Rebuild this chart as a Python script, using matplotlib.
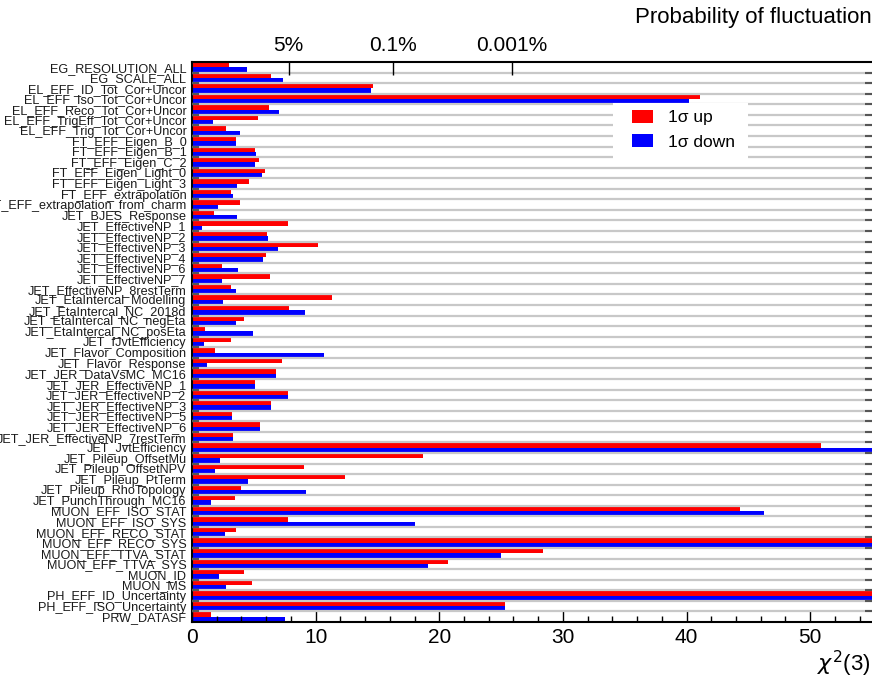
import math
import matplotlib
matplotlib.use("Agg")
import matplotlib.pyplot as plt
from matplotlib import font_manager
from matplotlib.patches import Patch, Rectangle
from matplotlib.ticker import FixedLocator, MultipleLocator, NullFormatter

# ---- data -------------------------------------------------------------
categories = [
    "EG_RESOLUTION_ALL", "EG_SCALE_ALL", "EL_EFF_ID_Tot_Cor+Uncor",
    "EL_EFF_Iso_Tot_Cor+Uncor", "EL_EFF_Reco_Tot_Cor+Uncor",
    "EL_EFF_TrigEff_Tot_Cor+Uncor", "EL_EFF_Trig_Tot_Cor+Uncor",
    "FT_EFF_Eigen_B_0", "FT_EFF_Eigen_B_1", "FT_EFF_Eigen_C_2",
    "FT_EFF_Eigen_Light_0", "FT_EFF_Eigen_Light_3", "FT_EFF_extrapolation",
    "FT_EFF_extrapolation_from_charm", "JET_BJES_Response",
    "JET_EffectiveNP_1", "JET_EffectiveNP_2", "JET_EffectiveNP_3",
    "JET_EffectiveNP_4", "JET_EffectiveNP_6", "JET_EffectiveNP_7",
    "JET_EffectiveNP_8restTerm", "JET_EtaIntercal_Modelling",
    "JET_EtaIntercal_NC_2018d", "JET_EtaIntercal_NC_negEta",
    "JET_EtaIntercal_NC_posEta", "JET_fJvtEfficiency",
    "JET_Flavor_Composition", "JET_Flavor_Response", "JET_JER_DataVsMC_MC16",
    "JET_JER_EffectiveNP_1", "JET_JER_EffectiveNP_2", "JET_JER_EffectiveNP_3",
    "JET_JER_EffectiveNP_5", "JET_JER_EffectiveNP_6",
    "JET_JER_EffectiveNP_7restTerm", "JET_JvtEfficiency",
    "JET_Pileup_OffsetMu", "JET_Pileup_OffsetNPV", "JET_Pileup_PtTerm",
    "JET_Pileup_RhoTopology", "JET_PunchThrough_MC16", "MUON_EFF_ISO_STAT",
    "MUON_EFF_ISO_SYS", "MUON_EFF_RECO_STAT", "MUON_EFF_RECO_SYS",
    "MUON_EFF_TTVA_STAT", "MUON_EFF_TTVA_SYS", "MUON_ID", "MUON_MS",
    "PH_EFF_ID_Uncertainty", "PH_EFF_ISO_Uncertainty", "PRW_DATASF",
]

chi2_up = [
    2.99, 6.35, 14.67, 41.1, 6.19, 5.30, 2.72, 3.53, 5.06, 5.38,
    5.87, 4.58, 3.12, 3.85, 1.75, 7.73, 6.03, 10.23, 5.95, 2.40,
    6.27, 3.12, 11.36, 7.81, 4.17, 1.02, 3.12, 1.83, 7.24, 6.76,
    5.06, 7.73, 6.43, 3.20, 5.47, 3.28, 50.9, 18.71, 9.02, 12.41,
    3.93, 3.45, 44.3, 7.73, 3.53, 60.3, 28.4, 20.7, 4.17, 4.82,
    64.0, 25.3, 1.51,
]

chi2_down = [
    4.42, 7.32, 14.51, 40.2, 7.00, 1.67, 3.85, 3.53, 5.14, 5.06,
    5.63, 3.61, 3.28, 2.07, 3.61, 0.78, 6.11, 6.92, 5.71, 3.69,
    2.40, 3.53, 2.48, 9.18, 3.53, 4.90, 0.94, 10.64, 1.18, 6.76,
    5.06, 7.73, 6.43, 3.20, 5.47, 3.28, 57.5, 2.24, 1.83, 4.50,
    9.26, 1.51, 46.3, 18.07, 2.64, 59.1, 25.0, 19.1, 2.15, 2.72,
    63.0, 25.3, 7.49,
]

prob_levels = [0.05, 0.001, 0.00001]
prob_labels = ["5%", "0.1%", "0.001%"]
x_max = 55


# ---- chi2 with 3 degrees of freedom -----------------------------------
def chi2_3dof_sf(x):
    return math.erfc(math.sqrt(x / 2.0)) + math.sqrt(2.0 * x / math.pi) * math.exp(-x / 2.0)


def chi2_3dof_isf(p):
    lo, hi = 0.0, 200.0
    for _ in range(200):
        mid = 0.5 * (lo + hi)
        if chi2_3dof_sf(mid) > p:
            lo = mid
        else:
            hi = mid
    return 0.5 * (lo + hi)


prob_positions = [chi2_3dof_isf(p) for p in prob_levels]

# ---- fonts ------------------------------------------------------------
installed = {f.name for f in font_manager.fontManager.ttflist}
regular = "Liberation Sans" if "Liberation Sans" in installed else "DejaVu Sans"
plt.rcParams["font.family"] = [regular, "DejaVu Sans"]

# ---- figure -----------------------------------------------------------
W, H = 872, 681
fig = plt.figure(figsize=(W / 100, H / 100), dpi=100)
ax_l, ax_b, ax_w, ax_h = 192, 622, 680, 560          # pixel box of the plot area
ax = fig.add_axes([ax_l / W, (H - ax_b) / H, ax_w / W, ax_h / H])


def px_to_axes(x, y):
    return (x - ax_l) / ax_w, (ax_b - y) / ax_h


n = len(categories)
ypos = list(range(n))
bar_h = 0.5
ax.barh([y - bar_h / 2 for y in ypos], chi2_up, height=bar_h,
        color="#ff0000", linewidth=0, zorder=2)
ax.barh([y + bar_h / 2 for y in ypos], chi2_down, height=bar_h,
        color="#0000ff", linewidth=0, zorder=2)

ax.set_xlim(0, x_max)
ax.set_ylim(n - 0.5, -0.5)

# category labels centred in each row, separators on the row boundaries
ax.set_yticks(ypos)
ax.set_yticklabels(categories, fontsize=9.1, color="#1a1a1a")
ax.yaxis.set_minor_locator(FixedLocator([y + 0.5 for y in ypos[:-1]]))
ax.tick_params(axis="y", which="major", length=0, pad=4)
ax.tick_params(axis="y", which="minor", direction="in", length=5, width=1.5,
               color="#555555", left=True, right=True)
ax.grid(axis="y", which="minor", color="#c8c8c8", linewidth=1.6, zorder=3)
ax.set_axisbelow(False)

# chi2 axis at the bottom
ax.xaxis.set_major_locator(MultipleLocator(10))
ax.xaxis.set_minor_locator(MultipleLocator(2))
ax.tick_params(axis="x", which="major", direction="in", length=8, width=1,
               labelsize=15, pad=4, top=False)
ax.tick_params(axis="x", which="minor", direction="in", length=4, width=1, top=False)

for side in ("left", "bottom", "top"):
    ax.spines[side].set_linewidth(1.5)
ax.spines["right"].set_visible(False)

# probability scale along the top
top = ax.twiny()
top.set_xlim(ax.get_xlim())
top.set_xticks(prob_positions)
top.set_xticklabels(prob_labels, fontsize=15)
top.xaxis.set_minor_formatter(NullFormatter())
top.tick_params(axis="x", which="major", direction="in", length=9, width=1, pad=5)
for side in ("left", "right", "bottom", "top"):
    top.spines[side].set_visible(False)

fig.text(1.0, 1 - 17 / H, "Probability of fluctuation", ha="right", va="center",
         fontsize=16)
fig.text(0.998, 1 - 664 / H, r"$\chi^2$(3)", ha="right", va="center", fontsize=16)

# legend on a plain white panel
x0, y0 = px_to_axes(613, 160)
x1, y1 = px_to_axes(748, 103)
ax.add_patch(Rectangle((x0, y0), x1 - x0, y1 - y0, transform=ax.transAxes,
                       facecolor="white", edgecolor="none", zorder=4))
handles = [Patch(facecolor="#ff0000", edgecolor="none", label="1σ up"),
           Patch(facecolor="#0000ff", edgecolor="none", label="1σ down")]
leg = ax.legend(handles=handles, loc="upper left",
                bbox_to_anchor=px_to_axes(632, 110),
                fontsize=12.5, frameon=False, handlelength=1.2,
                handleheight=0.75, borderpad=0, labelspacing=0.5,
                handletextpad=0.85, borderaxespad=0)
leg.set_zorder(5)

fig.savefig("out.png", dpi=100)
